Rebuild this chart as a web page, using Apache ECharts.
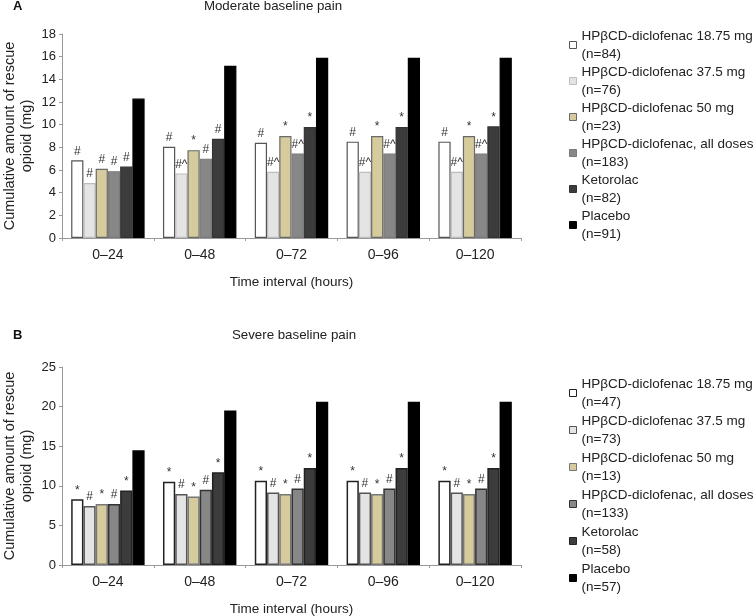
<!DOCTYPE html>
<html>
<head>
<meta charset="utf-8">
<script src="https://cdn.jsdelivr.net/npm/echarts@6/dist/echarts.min.js"></script>
<style>html,body{margin:0;padding:0;background:#fff;}#c{width:756px;height:616px;}</style>
</head>
<body>
<div id="c"></div>
<script>
const categories = ['0–24', '0–48', '0–72', '0–96', '0–120'];
const groupNames = ['HPβCD-diclofenac 18.75 mg', 'HPβCD-diclofenac 37.5 mg', 'HPβCD-diclofenac 50 mg', 'HPβCD-diclofenac, all doses', 'Ketorolac', 'Placebo'];
const nModerate = [84, 76, 23, 183, 82, 91];
const nSevere = [47, 73, 13, 133, 58, 57];

// Panel A: moderate baseline pain
const modDic1875 = [6.85, 8.05, 8.4, 8.5, 8.5];
const modDic375 = [4.85, 5.7, 5.85, 5.85, 5.85];
const modDic50 = [6.1, 7.75, 9.0, 9.0, 9.0];
const modDicAll = [5.9, 7.0, 7.45, 7.45, 7.45];
const modKetorolac = [6.3, 8.75, 9.8, 9.8, 9.85];
const modPlacebo = [12.3, 15.2, 15.9, 15.9, 15.9];
const modAnn1875 = ['#', '#', '#', '#', '#'];
const modAnn375 = ['#', '#^', '#^', '#^', '#^'];
const modAnn50 = ['#', '*', '*', '*', '*'];
const modAnnAll = ['#', '#', '#^', '#^', '#^'];
const modAnnKet = ['#', '#', '*', '*', '*'];
const modAnnPla = ['', '', '', '', ''];

// Panel B: severe baseline pain
const sevDic1875 = [8.3, 10.5, 10.65, 10.65, 10.65];
const sevDic375 = [7.45, 8.95, 9.15, 9.15, 9.15];
const sevDic50 = [7.7, 8.65, 8.95, 8.95, 8.95];
const sevDicAll = [7.7, 9.5, 9.65, 9.65, 9.65];
const sevKetorolac = [9.4, 11.7, 12.25, 12.25, 12.25];
const sevPlacebo = [14.5, 19.5, 20.6, 20.6, 20.6];
const sevAnn1875 = ['*', '*', '*', '*', '*'];
const sevAnn375 = ['#', '#', '#', '#', '#'];
const sevAnn50 = ['*', '*', '*', '*', '*'];
const sevAnnAll = ['#', '#', '#', '#', '#'];
const sevAnnKet = ['*', '*', '*', '*', '*'];
const sevAnnPla = ['', '', '', '', ''];

const yTicksA = { min: 0, max: 18, interval: 2 };
const yTicksB = { min: 0, max: 25, interval: 5 };

const fills = ['#ffffff', '#e4e4e4', '#d5cb9c', '#878787', '#3c3c3c', '#000000'];
const bordersA = ['#555555', '#bdbdbd', '#6a6a6a', '#7a7a7a', '#333333', '#000000'];
const bordersB = ['#222222', '#555555', '#777777', '#333333', '#222222', '#000000'];

const FONT = 'Liberation Sans, Arial, sans-serif';
const modVals = [modDic1875, modDic375, modDic50, modDicAll, modKetorolac, modPlacebo];
const modAnns = [modAnn1875, modAnn375, modAnn50, modAnnAll, modAnnKet, modAnnPla];
const sevVals = [sevDic1875, sevDic375, sevDic50, sevDicAll, sevKetorolac, sevPlacebo];
const sevAnns = [sevAnn1875, sevAnn375, sevAnn50, sevAnnAll, sevAnnKet, sevAnnPla];

function legendName(i, n) {
  return groupNames[i] + '\n(n=' + n[i] + ')';
}
const namesA = groupNames.map((g, i) => legendName(i, nModerate));
const namesB = groupNames.map((g, i) => legendName(i, nSevere)).map(s => s + ' ');

function makeSeries(vals, anns, names, borders, idx, bw) {
  return vals.map((v, i) => ({
    type: 'bar',
    name: names[i],
    xAxisIndex: idx,
    yAxisIndex: idx,
    barGap: '0%',
    barCategoryGap: '20%',
    itemStyle: { color: fills[i], borderColor: borders[i], borderWidth: bw },
    label: {
      show: true,
      position: 'top',
      distance: 3,
      fontFamily: FONT,
      fontSize: 12,
      color: '#333',
      formatter: p => anns[i][p.dataIndex]
    },
    emphasis: { disabled: true },
    data: v
  }));
}

function xAxis(idx) {
  return {
    type: 'category', gridIndex: idx, data: categories,
    name: 'Time interval (hours)', nameLocation: 'middle', nameGap: 37,
    nameTextStyle: { fontFamily: FONT, fontSize: 13.5, color: '#222' },
    axisLine: { show: true, lineStyle: { color: '#999', width: 1 } },
    axisTick: { show: true, alignWithLabel: false, length: 3, lineStyle: { color: '#999' } },
    axisLabel: { fontFamily: FONT, fontSize: 14, color: '#222', margin: 10 },
    splitLine: { show: false }
  };
}
function yAxis(idx, t) {
  return {
    type: 'value', gridIndex: idx, min: t.min, max: t.max, interval: t.interval,
    name: 'Cumulative amount of rescue\nopioid (mg)', nameLocation: 'middle', nameGap: 27,
    nameMoveOverlap: false,
    nameTextStyle: { fontFamily: FONT, fontSize: 14.5, color: '#222', lineHeight: 17 },
    axisLine: { show: true, lineStyle: { color: '#999', width: 1 } },
    axisTick: { show: true, length: 3, lineStyle: { color: '#999' } },
    axisLabel: { fontFamily: FONT, fontSize: 13, color: '#222', margin: 6 },
    splitLine: { show: false }
  };
}
function legend(names, top, gap) {
  return {
    orient: 'vertical', left: 569, top: top, padding: 0,
    data: names, itemWidth: 7, itemHeight: 7, itemGap: gap, icon: 'rect',
    itemStyle: { borderWidth: 1 },
    selectedMode: false,
    textStyle: { fontFamily: FONT, fontSize: 13.5, color: '#222', lineHeight: 18, padding: [18, 0, 0, 0] }
  };
}

const chart = echarts.init(document.getElementById('c'), null, { renderer: 'canvas' });
chart.setOption({
  backgroundColor: '#fff',
  animation: false,
  title: [
    { text: 'A', left: 13, top: 0, padding: 0, textStyle: { fontFamily: FONT, fontSize: 13, fontWeight: 'bold', color: '#111' } },
    { text: 'Moderate baseline pain', left: 273, top: 0, padding: 0, textAlign: 'center', textStyle: { fontFamily: FONT, fontSize: 13.3, fontWeight: 'normal', color: '#222' } },
    { text: 'B', left: 13, top: 329, padding: 0, textStyle: { fontFamily: FONT, fontSize: 13, fontWeight: 'bold', color: '#111' } },
    { text: 'Severe baseline pain', left: 294, top: 329, padding: 0, textAlign: 'center', textStyle: { fontFamily: FONT, fontSize: 13.3, fontWeight: 'normal', color: '#222' } }
  ],
  legend: [legend(namesA, 18, -18), legend(namesB, 366, -17)],
  grid: [
    { left: 62, top: 34, width: 459, height: 204, containLabel: false, outerBoundsMode: 'none' },
    { left: 62, top: 367, width: 459, height: 198, containLabel: false, outerBoundsMode: 'none' }
  ],
  xAxis: [xAxis(0), xAxis(1)],
  yAxis: [yAxis(0, yTicksA), yAxis(1, yTicksB)],
  series: makeSeries(modVals, modAnns, namesA, bordersA, 0, 1.2)
    .concat(makeSeries(sevVals, sevAnns, namesB, bordersB, 1, 1.5))
});
</script>
</body>
</html>
